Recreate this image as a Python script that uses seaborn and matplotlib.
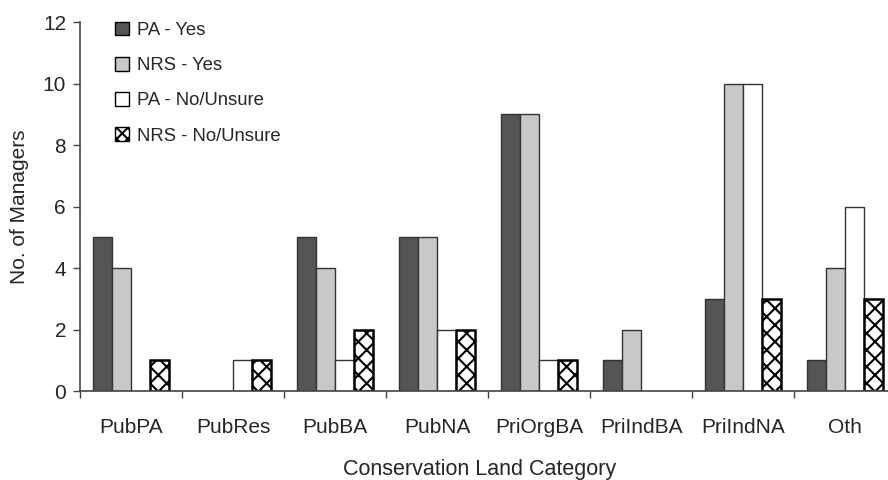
import pandas as pd
import numpy as np
import matplotlib
matplotlib.use('Agg')
import matplotlib.pyplot as plt
import seaborn as sns

## Data
categories = ['PubPA', 'PubRes', 'PubBA', 'PubNA', 'PriOrgBA', 'PriIndBA', 'PriIndNA', 'Oth']
series = ['PA - Yes', 'NRS - Yes', 'PA - No/Unsure', 'NRS - No/Unsure']
pa_yes = [5, 0, 5, 5, 9, 1, 3, 1]
nrs_yes = [4, 0, 4, 5, 9, 2, 10, 4]
pa_no = [0, 1, 1, 2, 1, 0, 10, 6]
nrs_no = [1, 1, 2, 2, 1, 0, 3, 3]

df = pd.DataFrame({
    'Category': categories * 4,
    'Response': np.repeat(series, len(categories)),
    'Managers': pa_yes + nrs_yes + pa_no + nrs_no,
})

sns.set_style('white')
plt.rcParams['font.family'] = ['Liberation Sans', 'DejaVu Sans']
plt.rcParams['hatch.linewidth'] = 1.5

colors = ['#555555', '#c8c8c8', '#ffffff', '#ffffff']

fig = plt.figure(figsize=(8.88, 4.8), dpi=100)
ax = fig.add_axes([0.09, 0.185, 0.91, 0.769])

sns.barplot(data=df, x='Category', y='Managers', hue='Response', order=categories,
            hue_order=series, palette=colors, width=0.75, saturation=1,
            edgecolor='#333333', linewidth=1.0, ax=ax)

# hatch the last series and give it a heavier black edge; hide empty bars
for i, cont in enumerate(ax.containers):
    for p in cont.patches:
        if p.get_height() == 0:
            p.set_visible(False)
        if i == 3:
            p.set_hatch('xx')
            p.set_edgecolor('black')
            p.set_linewidth(1.8)

ax.set_xlim(-0.5, 7.42)
ax.set_ylim(0, 12)
ax.set_yticks(range(0, 13, 2))
ax.set_xticks(range(len(categories)))
ax.set_xticklabels(categories, fontsize=15)
ax.tick_params(axis='x', length=0, pad=19)
ax.tick_params(axis='y', labelsize=15, length=5, width=1, color='#444444', left=True, pad=5)
# category separator ticks
ax.set_xticks(np.arange(-0.5, 7.5, 1), minor=True)
ax.tick_params(axis='x', which='minor', length=5, width=1, color='#444444', bottom=True)

for s in ['top', 'right']:
    ax.spines[s].set_visible(False)
for s in ['left', 'bottom']:
    ax.spines[s].set_color('#444444')
    ax.spines[s].set_linewidth(1.2)

ax.set_xlabel('Conservation Land Category', fontsize=15.5)
ax.xaxis.set_label_coords(0.495, -0.183)
ax.set_ylabel('No. of Managers', fontsize=15, labelpad=10)

leg = ax.legend(loc='upper left', bbox_to_anchor=(0.023, 1.046), frameon=False, fontsize=13.3,
                handlelength=0.76, handleheight=0.76, handletextpad=0.4, labelspacing=0.97)
for i, h in enumerate(leg.legend_handles):
    h.set_edgecolor('black')
    if i == 3:
        h.set_hatch('xxx')

plt.savefig('out.png', dpi=100)
